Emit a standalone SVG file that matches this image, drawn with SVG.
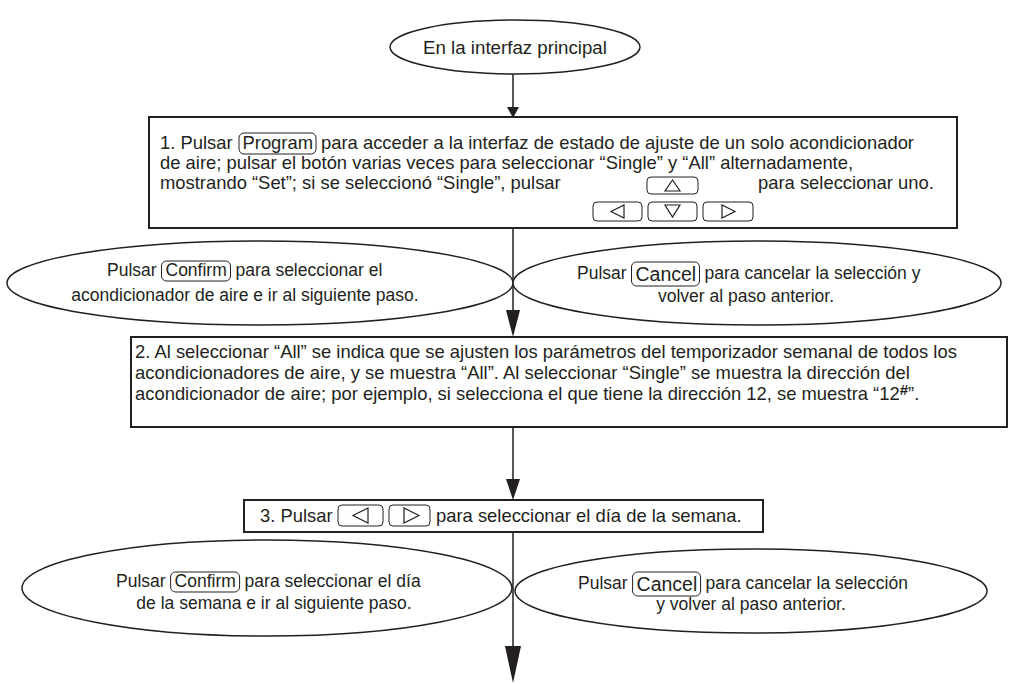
<svg xmlns="http://www.w3.org/2000/svg" width="1009" height="684" viewBox="0 0 1009 684">
<style>
text{font-family:"Liberation Sans",Arial,sans-serif;font-size:18.4px;fill:#231f20}
.e{font-size:17.5px}
.k{font-size:19.5px}
.c{text-anchor:middle}
.sh{fill:#fff;stroke:#231f20;stroke-width:1.5}
.bx{fill:#fff;stroke:#231f20;stroke-width:2}
.key{fill:none;stroke:#231f20;stroke-width:1}
.ic{fill:none;stroke:#231f20;stroke-width:1.2}
.ln{stroke:#231f20;stroke-width:1.5;fill:none}
.ah{fill:#231f20}
</style>
<rect width="1009" height="684" fill="#fff"/>
<g id="connectors">
<line class="ln" x1="513" y1="74" x2="513" y2="108"/>
<polygon class="ah" points="507,107 519,107 513,118"/>
<line class="ln" x1="513" y1="229" x2="513" y2="312"/>
<polygon class="ah" points="506,310 520,310 513,337"/>
<line class="ln" x1="513" y1="428" x2="513" y2="481"/>
<polygon class="ah" points="506,479 520,479 513,500"/>
<line class="ln" x1="513" y1="533" x2="513" y2="648"/>
<polygon class="ah" points="505,646 521,646 513,683"/>
</g>
<g id="start">
<ellipse class="sh" cx="515" cy="47" rx="125" ry="27"/>
<text class="c" x="515" y="54" style="font-size:18.7px">En la interfaz principal</text>
</g>
<g id="step1">
<rect class="bx" x="149" y="117" width="808" height="111"/>
<text x="160" y="149">1. Pulsar</text>
<rect class="key" x="239" y="133" width="77" height="21" rx="5"/>
<text x="242.5" y="149">Program</text>
<text x="321" y="149">para acceder a la interfaz de estado de ajuste de un solo acondicionador</text>
<text x="160" y="169">de aire; pulsar el botón varias veces para seleccionar “Single” y “All” alternadamente,</text>
<text x="160" y="189">mostrando “Set”; si se seleccionó “Single”, pulsar</text>
<text x="758" y="189">para seleccionar uno.</text>
<rect class="key" x="647" y="177" width="51" height="17" rx="4"/>
<polygon class="ic" points="672.5,180 665,191 680,191"/>
<rect class="key" x="593" y="202" width="49" height="19" rx="4"/>
<polygon class="ic" points="611,211.5 624,205 624,218"/>
<rect class="key" x="648" y="202" width="49" height="19" rx="4"/>
<polygon class="ic" points="665,205 680,205 672.5,217"/>
<rect class="key" x="703" y="202" width="50" height="19" rx="4"/>
<polygon class="ic" points="735,211.5 722,205 722,218"/>
</g>
<g id="confirm1">
<ellipse class="sh" cx="260" cy="283" rx="253" ry="42"/>
<text class="e" x="107" y="276">Pulsar</text>
<rect class="key" x="161.5" y="261" width="69" height="20" rx="5"/>
<text class="e" x="165.5" y="276">Confirm</text>
<text class="e" x="235.5" y="276">para seleccionar el</text>
<text class="e c" x="245" y="301">acondicionador de aire e ir al siguiente paso.</text>
</g>
<g id="cancel1">
<ellipse class="sh" cx="757" cy="283" rx="244" ry="42"/>
<text class="e" x="577" y="279">Pulsar</text>
<rect class="key" x="631.5" y="262" width="68" height="24" rx="5"/>
<text class="k" x="635.5" y="281">Cancel</text>
<text class="e" x="704.5" y="279">para cancelar la selección y</text>
<text class="e c" x="746" y="302">volver al paso anterior.</text>
</g>
<g id="step2">
<rect class="bx" x="131" y="337" width="876" height="90"/>
<text x="135" y="358">2. Al seleccionar “All” se indica que se ajusten los parámetros del temporizador semanal de todos los</text>
<text x="135" y="379">acondicionadores de aire, y se muestra “All”. Al seleccionar “Single” se muestra la dirección del</text>
<text x="135" y="400">acondicionador de aire; por ejemplo, si selecciona el que tiene la dirección 12, se muestra “12<tspan style="font-size:15px;font-weight:bold" dy="-5">#</tspan><tspan dy="5">”.</tspan></text>
</g>
<g id="step3">
<rect class="bx" x="244" y="500" width="519" height="32"/>
<text x="260" y="522">3. Pulsar</text>
<rect class="key" x="338" y="505" width="45" height="21" rx="4"/>
<polygon class="ic" points="353,515.5 368,508 368,523"/>
<rect class="key" x="389" y="505" width="41" height="21" rx="4"/>
<polygon class="ic" points="419,515.5 404,508 404,523"/>
<text x="436" y="522">para seleccionar el día de la semana.</text>
</g>
<g id="confirm2">
<ellipse class="sh" cx="267" cy="588" rx="245" ry="48"/>
<text class="e" x="116" y="587">Pulsar</text>
<rect class="key" x="170.6" y="572" width="69" height="20" rx="5"/>
<text class="e" x="174.6" y="587">Confirm</text>
<text class="e" x="244.6" y="587">para seleccionar el día</text>
<text class="e c" x="274" y="609">de la semana e ir al siguiente paso.</text>
</g>
<g id="cancel2">
<ellipse class="sh" cx="751" cy="591" rx="236" ry="42"/>
<text class="e" x="578" y="589">Pulsar</text>
<rect class="key" x="632.6" y="572" width="68" height="24" rx="5"/>
<text class="k" x="636.6" y="591">Cancel</text>
<text class="e" x="705.6" y="589">para cancelar la selección</text>
<text class="e c" x="751" y="610">y volver al paso anterior.</text>
</g>
</svg>
